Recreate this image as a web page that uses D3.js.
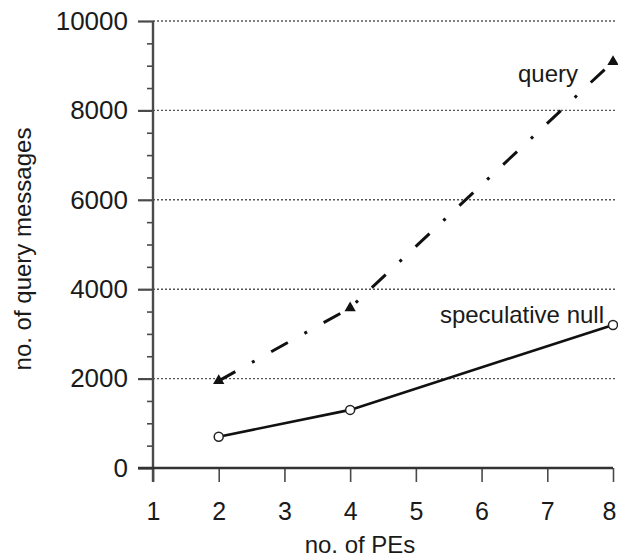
<!DOCTYPE html>
<html>
<head>
<meta charset="utf-8">
<script src="https://cdn.jsdelivr.net/npm/d3@7"></script>
<style>
  body { margin: 0; background: #fff; }
  svg text { font-family: "Liberation Sans", Arial, Helvetica, sans-serif; fill: #1a1a1a; }
</style>
</head>
<body>
<svg id="chart" width="618" height="560"></svg>
<script>
// values
const pes = [2, 4, 8];
const query = [1950, 3580, 9090];
const specNull = [700, 1300, 3200];
const xTicks = [1, 2, 3, 4, 5, 6, 7, 8];
const yTicks = [0, 2000, 4000, 6000, 8000, 10000];
const yMinor = d3.range(500, 10000, 500).filter(v => v % 2000 !== 0);

const svg = d3.select("#chart");
const x = d3.scaleLinear().domain([1, 8]).range([153, 613]);
const y = d3.scaleLinear().domain([0, 10000]).range([468, 21]);
const axisCol = "#4a4a4a";

// dotted grid
svg.append("g").selectAll("line")
  .data(yTicks.filter(d => d > 0))
  .enter().append("line")
  .attr("x1", x(1)).attr("x2", x(8) + 2)
  .attr("y1", d => y(d)).attr("y2", d => y(d))
  .attr("stroke", "#555").attr("stroke-width", 1.4)
  .attr("stroke-dasharray", "2,2");

// y axis, major + minor ticks
const gy = svg.append("g").attr("transform", `translate(${x(1)},0)`)
  .call(d3.axisLeft(y).tickValues(yTicks).tickFormat(d3.format("d"))
    .tickSize(15).tickPadding(10).tickSizeOuter(0));
gy.select(".domain").remove();
gy.selectAll(".tick line").attr("stroke", axisCol).attr("stroke-width", 2.2);
gy.selectAll(".tick text").style("font-size", "26px");

const gyMinor = svg.append("g").attr("transform", `translate(${x(1)},0)`)
  .call(d3.axisLeft(y).tickValues(yMinor).tickSize(6).tickFormat(""));
gyMinor.select(".domain").remove();
gyMinor.selectAll(".tick line").attr("stroke", axisCol).attr("stroke-width", 1.6);

// x axis
const gx = svg.append("g").attr("transform", `translate(0,${y(0)})`)
  .call(d3.axisBottom(x).tickValues(xTicks).tickFormat(d3.format("d"))
    .tickSize(14).tickPadding(20).tickSizeOuter(0));
gx.select(".domain").remove();
gx.selectAll(".tick line").attr("stroke", axisCol).attr("stroke-width", 1.6);
gx.selectAll(".tick text").style("font-size", "25px")
  .attr("dx", d => d === 8 ? -4 : 0);

// axis lines
svg.append("line").attr("x1", x(1)).attr("x2", x(1))
  .attr("y1", y(10000)).attr("y2", y(0) + 14)
  .attr("stroke", axisCol).attr("stroke-width", 2.4);
svg.append("line").attr("x1", x(1) - 15).attr("x2", x(8))
  .attr("y1", y(0)).attr("y2", y(0))
  .attr("stroke", "#333").attr("stroke-width", 2.4);

// axis titles
svg.append("text").attr("x", 360).attr("y", 553)
  .attr("text-anchor", "middle").style("font-size", "24px").text("no. of PEs");
svg.append("text").attr("transform", "translate(31,249) rotate(-90)")
  .attr("text-anchor", "middle").style("font-size", "24px").text("no. of query messages");

// series
const line = d3.line().x(d => x(d[0])).y(d => y(d[1]));
const qPts = pes.map((p, i) => [p, query[i]]);
const sPts = pes.map((p, i) => [p, specNull[i]]);

svg.append("path").datum(qPts).attr("d", line)
  .attr("fill", "none").attr("stroke", "#111").attr("stroke-width", 3)
  .attr("stroke-dasharray", "19,19,3,19");
svg.append("path").datum(sPts).attr("d", line)
  .attr("fill", "none").attr("stroke", "#111").attr("stroke-width", 2.6);

svg.append("g").selectAll("path").data(qPts).enter().append("path")
  .attr("transform", d => `translate(${x(d[0])},${y(d[1])})`)
  .attr("d", d3.symbol(d3.symbolTriangle, 55))
  .attr("fill", "#111");

svg.append("g").selectAll("circle").data(sPts).enter().append("circle")
  .attr("cx", d => x(d[0])).attr("cy", d => y(d[1])).attr("r", 4.5)
  .attr("fill", "#fff").attr("stroke", "#222").attr("stroke-width", 1.5);

// series labels
svg.append("text").attr("x", 578).attr("y", 82)
  .attr("text-anchor", "end").style("font-size", "24px").text("query");
svg.append("text").attr("x", 604).attr("y", 323)
  .attr("text-anchor", "end").style("font-size", "24px").text("speculative null");
</script>
</body>
</html>
